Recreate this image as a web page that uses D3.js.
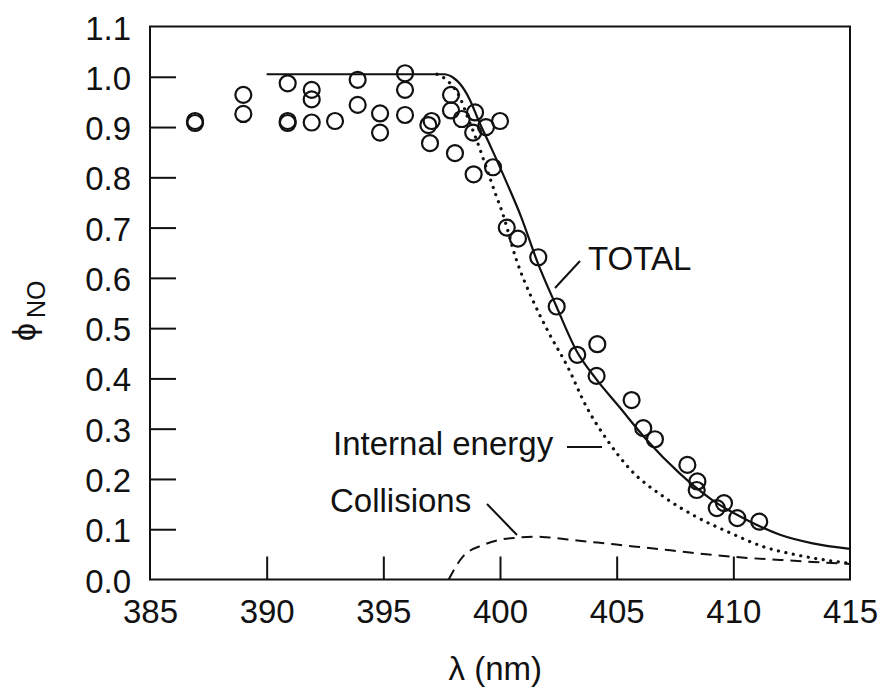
<!DOCTYPE html>
<html>
<head>
<meta charset="utf-8">
<script src="https://cdn.jsdelivr.net/npm/d3@7"></script>
<style>
  html, body { margin: 0; padding: 0; background: #fff; }
  svg text { font-family: "Liberation Sans", Arial, Helvetica, sans-serif; fill: #111; }
</style>
</head>
<body>
<svg id="chart" width="883" height="691"></svg>
<script>
// ---- data ----
const xTickValues = [385, 390, 395, 400, 405, 410, 415];
const yTickValues = [0.0, 0.1, 0.2, 0.3, 0.4, 0.5, 0.6, 0.7, 0.8, 0.9, 1.0, 1.1];

const obsLambda = [386.93, 386.93, 389.0, 389.0, 390.9, 390.9, 390.9, 391.93, 391.93, 391.93,
  392.93, 393.9, 393.9, 394.86, 394.86, 395.93, 395.93, 395.93, 397.07, 396.93, 397.0,
  397.9, 397.9, 398.07, 398.36, 398.93, 398.85, 399.4, 400.0, 398.87, 399.7,
  400.29, 400.77, 401.64, 402.43, 403.31, 404.17, 404.14, 405.64, 406.14, 406.64,
  408.03, 408.46, 408.43, 409.29, 409.6, 410.17, 411.11];
const obsPhi = [0.912, 0.908, 0.964, 0.926, 0.987, 0.912, 0.908, 0.974, 0.955, 0.909,
  0.912, 0.994, 0.944, 0.927, 0.889, 1.007, 0.974, 0.924, 0.912, 0.904, 0.868,
  0.964, 0.933, 0.848, 0.916, 0.929, 0.889, 0.900, 0.912, 0.806, 0.820,
  0.700, 0.678, 0.641, 0.543, 0.447, 0.468, 0.405, 0.357, 0.301, 0.279,
  0.228, 0.195, 0.178, 0.142, 0.152, 0.122, 0.115];

const totalLambda = [390, 397.6, 398.0, 398.3, 398.7, 399.1, 399.6, 400.3, 400.9, 401.6, 402.4,
  403.3, 404.1, 405.1, 406.3, 407.7, 409.1, 410.6, 412.0, 413.4, 415];
const totalPhi = [1.005, 1.005, 0.998, 0.985, 0.955, 0.911, 0.861, 0.788, 0.722, 0.632, 0.545,
  0.453, 0.400, 0.344, 0.277, 0.211, 0.158, 0.118, 0.089, 0.072, 0.061];

const internalLambda = [397.3, 397.8, 398.3, 398.6, 399.0, 399.4, 399.8, 400.1, 400.7, 401.4,
  402.1, 402.9, 403.7, 404.6, 405.6, 407.0, 408.4, 409.9, 411.3, 412.7, 415];
const internalPhi = [1.005, 0.99, 0.957, 0.921, 0.874, 0.821, 0.768, 0.73, 0.636, 0.556,
  0.49, 0.423, 0.344, 0.277, 0.218, 0.165, 0.125, 0.092, 0.065, 0.049, 0.032];

const collisionLambda = [397.8, 398.4, 399.3, 400.0, 400.7, 401.5, 402.0, 403.4, 404.9, 406.3,
  407.7, 409.1, 410.6, 412.0, 413.4, 415];
const collisionPhi = [0, 0.045, 0.069, 0.079, 0.083, 0.085, 0.084, 0.077, 0.07, 0.063,
  0.056, 0.049, 0.043, 0.039, 0.035, 0.031];

// ---- layout ----
const svg = d3.select("#chart");
const mLeft = 150, mRight = 850, mTop = 26.5, mBottom = 579.5;
const x = d3.scaleLinear().domain([385, 415]).range([mLeft, mRight]);
const y = d3.scaleLinear().domain([0, 1.1]).range([mBottom, mTop]);
const ink = "#111";

// frame
svg.append("rect").attr("x", mLeft).attr("y", mTop)
  .attr("width", mRight - mLeft).attr("height", mBottom - mTop)
  .attr("fill", "none").attr("stroke", ink).attr("stroke-width", 2);

// y axis (ticks inward)
const yAxis = d3.axisLeft(y).tickValues(yTickValues).tickFormat(d3.format(".1f"))
  .tickSizeInner(-26).tickSizeOuter(0).tickPadding(19);
const gy = svg.append("g").attr("transform", `translate(${mLeft},0)`).call(yAxis);
gy.select(".domain").remove();
gy.selectAll(".tick line").attr("stroke", ink).attr("stroke-width", 2)
  .filter(d => d === 0 || d === 1.1).remove();
gy.selectAll(".tick text").attr("font-size", 33).attr("fill", ink)
  .attr("dy", "0.38em").attr("x", -19);

// x axis (ticks inward)
const xAxis = d3.axisBottom(x).tickValues(xTickValues).tickFormat(d3.format("d"))
  .tickSizeInner(-23).tickSizeOuter(0).tickPadding(20);
const gx = svg.append("g").attr("transform", `translate(0,${mBottom})`).call(xAxis);
gx.select(".domain").remove();
gx.selectAll(".tick line").attr("stroke", ink).attr("stroke-width", 2)
  .filter(d => d === 385 || d === 415).remove();
gx.selectAll(".tick text").attr("font-size", 33).attr("fill", ink)
  .attr("dy", 0).attr("y", 43.5);

// axis titles
svg.append("text").attr("x", x(399.8)).attr("y", 680)
  .attr("text-anchor", "middle").attr("font-size", 33).text("λ (nm)");
const yl = svg.append("text").attr("transform", "translate(35,341) rotate(-90)")
  .attr("font-size", 32);
yl.append("tspan").text("ϕ");
yl.append("tspan").attr("dx", 5).attr("dy", 10).attr("font-size", 25).text("NO");

// curves
const line = d3.line().x(d => x(d[0])).y(d => y(d[1])).curve(d3.curveMonotoneX);
const zip = (a, b) => a.map((v, i) => [v, b[i]]);

svg.append("path").datum(zip(collisionLambda, collisionPhi)).attr("d", line)
  .attr("fill", "none").attr("stroke", ink).attr("stroke-width", 2)
  .attr("stroke-dasharray", "11 7");
svg.append("path").datum(zip(internalLambda, internalPhi)).attr("d", line)
  .attr("fill", "none").attr("stroke", ink).attr("stroke-width", 3.2)
  .attr("stroke-linecap", "round").attr("stroke-dasharray", "0.1 7.5");
svg.append("path").datum(zip(totalLambda, totalPhi)).attr("d", line)
  .attr("fill", "none").attr("stroke", ink).attr("stroke-width", 2.2);

// observations
svg.append("g").selectAll("circle").data(zip(obsLambda, obsPhi)).join("circle")
  .attr("cx", d => x(d[0])).attr("cy", d => y(d[1])).attr("r", 8)
  .attr("fill", "none").attr("stroke", ink).attr("stroke-width", 2.2);

// annotations
svg.append("text").attr("x", 588).attr("y", 270).attr("font-size", 33).text("TOTAL");
svg.append("line").attr("x1", 580).attr("y1", 261).attr("x2", 555).attr("y2", 288)
  .attr("stroke", ink).attr("stroke-width", 2);

svg.append("text").attr("x", 333).attr("y", 455).attr("font-size", 33).text("Internal energy");
svg.append("line").attr("x1", 567).attr("y1", 447).attr("x2", 602).attr("y2", 447)
  .attr("stroke", ink).attr("stroke-width", 2);

svg.append("text").attr("x", 330).attr("y", 512).attr("font-size", 33).text("Collisions");
svg.append("line").attr("x1", 487).attr("y1", 504).attr("x2", 517).attr("y2", 535)
  .attr("stroke", ink).attr("stroke-width", 2);
</script>
</body>
</html>
